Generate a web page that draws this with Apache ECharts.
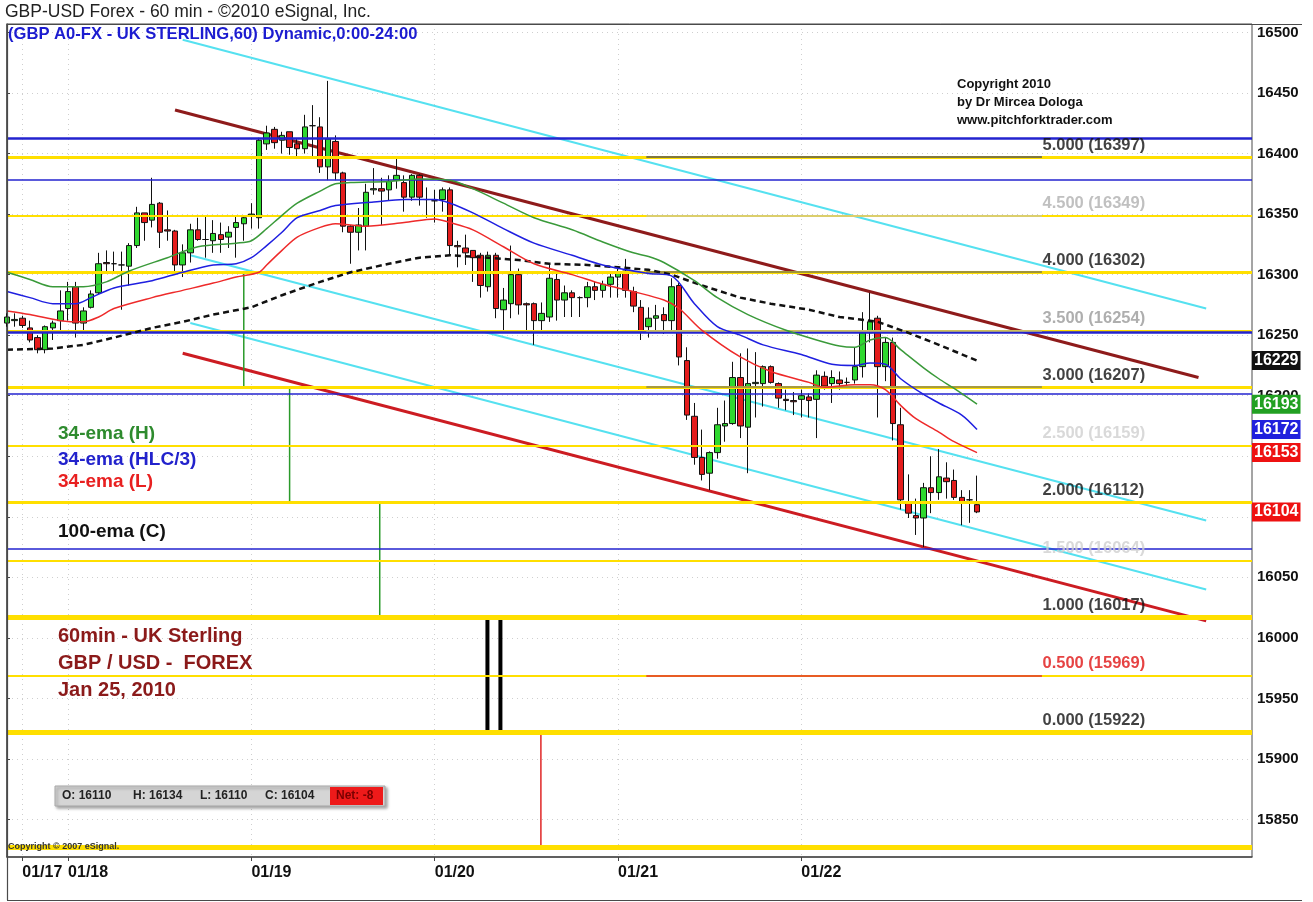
<!DOCTYPE html>
<html><head><meta charset="utf-8">
<script src="https://cdn.jsdelivr.net/npm/echarts@6/dist/echarts.min.js"></script>
<style>html,body{margin:0;padding:0;background:#fff;}#chart{width:1313px;height:902px;}</style>
</head><body><div id="chart"></div>
<script>
const FONT = 'Arial, "Liberation Sans", Helvetica, sans-serif';

// ---------- axis / ticks ----------
const dayLabels = ['01/17','01/18','01/19','01/20','01/21','01/22'];
const dayLabelIndex = [2, 8, 32, 56, 80, 104];
const priceTicks = [15850,15900,15950,16000,16050,16100,16150,16200,16250,16300,16350,16400,16450,16500];
const slotCount = 164;

// ---------- hourly candles (O, C, L, H) ----------
const candleOpen = [16260,16262,16264,16256,16248,16238,16256,16262,16272,16290,16260,16273,16285,16310,16309,16308,16307,16324,16351,16345,16359,16337,16336,16308,16318,16337,16329,16328,16333,16331,16339,16342,16349,16347,16408,16420,16411,16418,16408,16404,16423,16422,16389,16410,16384,16340,16335,16340,16370,16371,16370,16378,16376,16364,16382,16362,16361,16362,16370,16324,16322,16320,16316,16290,16316,16271,16276,16300,16276,16276,16262,16265,16296,16279,16285,16281,16281,16290,16287,16292,16298,16303,16286,16273,16257,16264,16267,16262,16291,16229,16183,16149,16136,16153,16175,16177,16215,16174,16210,16210,16224,16210,16197,16196,16197,16199,16197,16216,16210,16213,16211,16213,16224,16252,16264,16224,16244,16176,16112,16101,16099,16124,16120,16132,16130,16116,16114,16110];
const candleClose = [16265,16263,16258,16246,16238,16257,16260,16270,16286,16260,16270,16284,16309,16309,16309,16308,16324,16351,16343,16358,16335,16336,16308,16318,16337,16329,16329,16334,16329,16335,16343,16347,16350,16411,16417,16409,16415,16405,16404,16422,16423,16389,16412,16384,16340,16335,16341,16368,16371,16369,16377,16382,16364,16382,16364,16362,16361,16370,16324,16323,16318,16314,16291,16316,16272,16279,16300,16275,16275,16262,16268,16297,16279,16285,16281,16281,16290,16287,16292,16298,16302,16287,16274,16253,16264,16266,16262,16290,16232,16184,16149,16135,16153,16176,16177,16215,16175,16210,16211,16224,16211,16198,16196,16195,16200,16196,16217,16208,16215,16210,16211,16224,16252,16261,16224,16244,16177,16114,16103,16099,16124,16120,16133,16129,16116,16111,16114,16104];
const candleLow = [16257,16257,16256,16244,16235,16235,16246,16254,16262,16248,16252,16272,16284,16302,16301,16271,16291,16322,16328,16339,16322,16328,16301,16298,16310,16328,16314,16318,16318,16322,16314,16328,16338,16338,16403,16404,16400,16399,16396,16400,16397,16384,16378,16378,16335,16309,16320,16320,16366,16341,16361,16371,16352,16361,16357,16347,16343,16352,16316,16306,16308,16294,16281,16286,16264,16253,16264,16267,16252,16242,16252,16261,16262,16265,16265,16265,16273,16279,16281,16281,16281,16281,16269,16246,16248,16254,16251,16254,16225,16180,16143,16130,16122,16148,16162,16176,16165,16136,16182,16191,16210,16190,16188,16184,16182,16182,16165,16205,16194,16205,16206,16210,16215,16244,16182,16212,16163,16106,16099,16085,16075,16103,16114,16115,16114,16093,16095,16103];
const candleHigh = [16268,16268,16266,16262,16250,16258,16262,16287,16294,16294,16273,16287,16318,16320,16319,16319,16326,16356,16351,16380,16360,16353,16337,16325,16342,16347,16349,16345,16343,16340,16349,16349,16359,16413,16423,16422,16418,16418,16412,16432,16440,16430,16460,16415,16385,16341,16355,16375,16388,16380,16382,16397,16382,16383,16383,16372,16370,16372,16372,16328,16333,16320,16318,16319,16318,16289,16324,16305,16277,16277,16277,16309,16301,16291,16287,16282,16294,16294,16295,16302,16305,16313,16290,16279,16273,16275,16273,16297,16293,16240,16194,16172,16154,16190,16196,16228,16235,16239,16236,16225,16225,16211,16205,16203,16205,16202,16221,16220,16221,16220,16215,16240,16269,16285,16266,16248,16248,16190,16135,16115,16128,16150,16156,16145,16139,16122,16122,16134];

// ---------- moving averages [bar index, value] ----------
const ema34High = [[0,16302],[3,16296],[6,16290],[10,16290],[13,16294],[16,16303],[21,16314],[25,16323],[30,16326],[32,16328],[34,16338],[36,16349],[38,16359],[41,16369],[43,16375],[45,16376],[50,16377],[54,16379],[58,16378],[61,16371],[65,16359],[69,16347],[74,16337],[78,16327],[82,16318],[84,16315],[86,16310],[90,16295],[93,16281],[97,16267],[102,16254],[106,16246],[109,16241],[111,16240],[113,16246],[115,16248],[117,16238],[120,16223],[122,16214],[124,16206],[127,16193]];
const ema34HLC = [[0,16286],[3,16281],[6,16276],[9,16276],[11,16281],[14,16289],[19,16295],[23,16302],[27,16308],[30,16309],[32,16314],[34,16324],[36,16335],[38,16347],[41,16353],[43,16357],[48,16360],[52,16362],[56,16362],[58,16359],[61,16351],[65,16338],[69,16326],[74,16316],[78,16308],[84,16301],[87,16299],[90,16276],[93,16257],[96,16250],[99,16242],[104,16234],[108,16226],[111,16225],[113,16227],[115,16226],[117,16214],[120,16201],[122,16194],[125,16184],[127,16172]];
const ema34Low = [[0,16270],[3,16267],[7,16262],[10,16261],[12,16265],[14,16272],[19,16281],[23,16287],[27,16293],[30,16298],[33,16302],[34,16308],[36,16320],[38,16331],[41,16339],[43,16342],[47,16340],[52,16343],[56,16346],[58,16343],[61,16337],[65,16323],[69,16309],[74,16300],[78,16292],[82,16286],[86,16279],[88,16272],[91,16254],[96,16232],[100,16220],[105,16211],[107,16207],[111,16209],[113,16209],[115,16205],[117,16192],[119,16181],[122,16170],[124,16162],[127,16153]];
const ema100Close = [[0,16238],[6,16239],[10,16242],[14,16248],[19,16256],[23,16261],[27,16267],[32,16273],[36,16283],[41,16294],[43,16298],[45,16302],[50,16309],[54,16314],[58,16316],[63,16314],[67,16312],[71,16309],[76,16308],[80,16306],[84,16304],[87,16300],[91,16291],[96,16281],[100,16276],[105,16271],[109,16265],[114,16261],[118,16252],[122,16242],[127,16229]];

// ---------- fibonacci levels ----------
const fibRatios = ['5.000','4.500','4.000','3.500','3.000','2.500','2.000','1.500','1.000','0.500','0.000'];
const fibValues = [16397,16349,16302,16254,16207,16159,16112,16064,16017,15969,15922];
const extraLevel = [15827];
const blueLevels = [16413,16378,16252,16202,16074];

// ---------- drawn trend lines [bar index, value] ----------
const trendUpperDark = [[22,16436],[156,16215]];
const trendLowerRed = [[23,16235],[157,16014]];
const cyanUpper = [[23,16494],[157,16272]];
const cyanMiddle = [[24,16316],[157,16097]];
const cyanLower = [[24,16260],[157,16040]];

// ---------- vertical time markers [bar index, from, to] ----------
const greenMarkers = [[31,16302,16207],[37,16207,16112],[48.8,16112,16017]];
const blackMarkers = [[62.9,16017,15922],[64.6,16017,15922]];
const redMarkers = [[69.9,15922,15827]];

// ---------- last values on the price axis ----------
const lastValues = [16229,16193,16172,16153,16104];
const lastBar = {O:16110, H:16134, L:16110, C:16104, Net:-8};

// ---------- styles ----------
const fibLineWidths = [3,2,3,2,3,2,3,2,5,2,5];
const fibLabelColors = ['#111','#b0b0b0','#111','#9a9a9a','#111','#d0d0d0','#111','#d0d0d0','#111','#e01414','#111'];
const fibSegColors = ['#555555','#cfc98f','#7f7b4c','#bdb47a','#8a8555',null,null,null,null,'#e03030',null];
const blueWidths = [2.5,1.5,2.5,1.5,1.5];
const lastColors = ['#111111','#22a022','#2020dd','#ee1111','#ee1111'];
const fibSegStart = 83.7, fibSegEnd = 135.5, fibLabelX = 135.5;
const TRANSPARENT = 'rgba(0,0,0,0)';

// categories (hourly slots)
const categories = [];
for (let i = 0; i < slotCount; i++) {
  if (i < 2) { categories.push('01/15 ' + (16 + i) + ':00'); continue; }
  const t = i - 2 + 18;
  const d = 17 + Math.floor(t / 24);
  categories.push('01/' + d + ' ' + (t % 24) + ':00');
}
const isDay = (i) => dayLabelIndex.indexOf(i) >= 0;

const candleData = candleOpen.map((o, i) => [o, candleClose[i], candleLow[i], candleHigh[i]]);

function hLines(values, widths, color, z) {
  return {
    type: 'line', xAxisIndex: 1, yAxisIndex: 0, data: [], z: z, silent: true,
    markLine: {
      silent: true, animation: false, symbol: ['none', 'none'], label: { show: false },
      emphasis: { disabled: true },
      data: values.map((v, i) => ({ yAxis: v, lineStyle: { color: color, width: widths[i], type: 'solid', opacity: 1 } }))
    }
  };
}
function polyline(data, color, width, z, type) {
  return {
    type: 'line', xAxisIndex: 1, yAxisIndex: 0, data: data, z: z, silent: true,
    symbol: 'none', lineStyle: { color: color, width: width, type: type || 'solid' }
  };
}
function markers(list, color, width, z) {
  return list.map(m => polyline([[m[0], m[1]], [m[0], m[2]]], color, width, z));
}

const fibSegData = [];
fibValues.forEach((v, i) => {
  if (fibSegColors[i]) fibSegData.push([{ coord: [fibSegStart, v], lineStyle: { color: fibSegColors[i], width: 1.5, type: 'solid' } }, { coord: [fibSegEnd, v] }]);
});

const series = [
  hLines(fibValues.concat(extraLevel), fibLineWidths.concat([5]), '#ffdf00', 1),
  hLines(blueLevels, blueWidths, '#2323cf', 2),
  { type: 'line', xAxisIndex: 1, yAxisIndex: 0, data: [], z: 2, silent: true,
    markLine: { silent: true, animation: false, symbol: ['none','none'], label: { show: false }, emphasis: { disabled: true }, data: fibSegData } },
  polyline(cyanUpper, '#55e1f0', 2, 3),
  polyline(cyanMiddle, '#55e1f0', 2, 3),
  polyline(cyanLower, '#55e1f0', 2, 3),
  polyline(trendUpperDark, '#8e1b1b', 3, 3),
  polyline(trendLowerRed, '#cc1c22', 3, 3),
  ...markers(greenMarkers, '#2a9a2a', 1.5, 3),
  ...markers(blackMarkers, '#000000', 4, 3),
  ...markers(redMarkers, '#e02626', 1.5, 3),
  {
    type: 'candlestick', xAxisIndex: 0, yAxisIndex: 0, data: candleData, barWidth: 6, z: 4,
    itemStyle: { color: '#2fd82f', color0: '#e41c1c', borderColor: '#111', borderColor0: '#111', borderColorDoji: '#111', borderWidth: 1 }
  },
  polyline(ema100Close, '#111111', 2.5, 5, [6, 4]),
  Object.assign(polyline(ema34High, '#3a9a3a', 1.5, 5), { smooth: 0.3 }),
  Object.assign(polyline(ema34HLC, '#1f1fe0', 1.5, 5), { smooth: 0.3 }),
  Object.assign(polyline(ema34Low, '#ee2a2a', 1.5, 5), { smooth: 0.3 }),
  {
    type: 'scatter', xAxisIndex: 1, yAxisIndex: 0, z: 6, silent: true, symbolSize: 1,
    itemStyle: { color: TRANSPARENT },
    label: { show: true, position: 'right', distance: 0, offset: [0, -12], fontSize: 16.5, fontWeight: 'bold', fontFamily: FONT, formatter: p => p.name },
    data: fibValues.map((v, i) => ({ name: fibRatios[i] + ' (' + v + ')', value: [fibLabelX, v], label: { color: fibLabelColors[i] } }))
  },
  {
    type: 'line', xAxisIndex: 1, yAxisIndex: 0, data: [], z: 7, silent: true,
    markLine: {
      silent: true, animation: false, symbol: ['none', 'none'], emphasis: { disabled: true },
      lineStyle: { width: 1, color: TRANSPARENT },
      label: { show: true, position: 'end', distance: 0, color: '#fff', fontSize: 16, fontWeight: 'bold', fontFamily: FONT, padding: [2, 2, 1, 2] },
      data: lastValues.map((v, i) => ({ yAxis: v, label: { backgroundColor: lastColors[i], formatter: String(v) } }))
    }
  }
];

const gtext = (text, x, y, font, fill) => ({ type: 'text', x: x, y: y, z: 100, style: { text: text, font: font, fill: fill, verticalAlign: 'middle' } });

const option = {
  animation: false,
  backgroundColor: '#ffffff',
  textStyle: { fontFamily: FONT },
  grid: { left: 7, right: 61, top: 24, bottom: 45, show: true, borderColor: '#4a4a4a', borderWidth: 1, backgroundColor: '#fff', outerBoundsMode: 'none' },
  xAxis: [
    {
      type: 'category', data: categories, boundaryGap: false,
      axisLine: { show: true, lineStyle: { color: '#4a4a4a', width: 1.5 } },
      axisTick: { show: true, interval: (i) => isDay(i), length: 4, lineStyle: { color: '#444' } },
      axisLabel: { interval: (i) => isDay(i), formatter: (v, i) => dayLabels[dayLabelIndex.indexOf(i)] || '', align: 'left', color: '#111', fontSize: 16, fontWeight: 'bold', margin: 8 },
      splitLine: { show: true, interval: (i) => isDay(i), lineStyle: { color: '#cfcfcf', type: [1, 4] } }
    },
    { type: 'value', min: 0, max: slotCount - 1, show: false }
  ],
  yAxis: {
    type: 'value', position: 'right', min: 15819, max: 16507, scale: true,
    axisLine: { show: true, lineStyle: { color: '#4a4a4a', width: 1.5 } },
    axisTick: { show: true, customValues: priceTicks, length: 3, lineStyle: { color: '#444' } },
    axisLabel: { customValues: priceTicks, formatter: (v) => String(v), color: '#111', fontSize: 15, fontWeight: 'bold', margin: 5, align: 'left' },
    splitLine: { show: true, lineStyle: { color: '#cfcfcf', type: [1, 4] } }
  },
  series: series,
  graphic: [
    { type: 'polyline', z: 50, shape: { points: [[7.5, 900], [7.5, 24.5], [1302, 24.5]] }, style: { stroke: '#4a4a4a', lineWidth: 1.2, fill: null } },
    { type: 'line', z: 50, shape: { x1: 7, y1: 900.5, x2: 1302, y2: 900.5 }, style: { stroke: '#4a4a4a', lineWidth: 1.2 } },
    gtext('GBP-USD Forex - 60 min - ©2010 eSignal, Inc.', 5, 12, '17.5px ' + FONT, '#222'),
    gtext('(GBP A0-FX - UK STERLING,60) Dynamic,0:00-24:00', 8, 34, 'bold 16.6px ' + FONT, '#1c1cd0'),
    gtext('34-ema (H)', 58, 434, 'bold 19px ' + FONT, '#2e8b2e'),
    gtext('34-ema (HLC/3)', 58, 460, 'bold 19px ' + FONT, '#2222cc'),
    gtext('34-ema (L)', 58, 482, 'bold 19px ' + FONT, '#e82020'),
    gtext('100-ema (C)', 58, 532, 'bold 19px ' + FONT, '#111'),
    gtext('60min - UK Sterling', 58, 636, 'bold 20px ' + FONT, '#8b1a1a'),
    gtext('GBP / USD -  FOREX', 58, 663, 'bold 20px ' + FONT, '#8b1a1a'),
    gtext('Jan 25, 2010', 58, 690, 'bold 20px ' + FONT, '#8b1a1a'),
    gtext('Copyright 2010', 957, 84, 'bold 13px ' + FONT, '#111'),
    gtext('by Dr Mircea Dologa', 957, 102, 'bold 13px ' + FONT, '#111'),
    gtext('www.pitchforktrader.com', 957, 120, 'bold 13px ' + FONT, '#111'),
    gtext('Copyright © 2007 eSignal.', 8, 847, 'bold 9px ' + FONT, '#333'),
    { type: 'rect', z: 90, shape: { x: 55, y: 786, width: 330, height: 20 }, style: { fill: '#d5d5d5', stroke: '#a8a8a8', lineWidth: 1, shadowBlur: 3, shadowOffsetX: 2, shadowOffsetY: 2, shadowColor: 'rgba(0,0,0,0.35)' } },
    { type: 'rect', z: 91, shape: { x: 330, y: 787, width: 53, height: 18 }, style: { fill: '#ee1a1a' } },
    gtext('O: ' + lastBar.O, 62, 796, 'bold 12px ' + FONT, '#222'),
    gtext('H: ' + lastBar.H, 133, 796, 'bold 12px ' + FONT, '#222'),
    gtext('L: ' + lastBar.L, 200, 796, 'bold 12px ' + FONT, '#222'),
    gtext('C: ' + lastBar.C, 265, 796, 'bold 12px ' + FONT, '#222'),
    gtext('Net: ' + lastBar.Net, 336, 796, 'bold 12px ' + FONT, '#7a0000')
  ]
};

const chart = echarts.init(document.getElementById('chart'));
chart.setOption(option);
</script>
</body></html>
